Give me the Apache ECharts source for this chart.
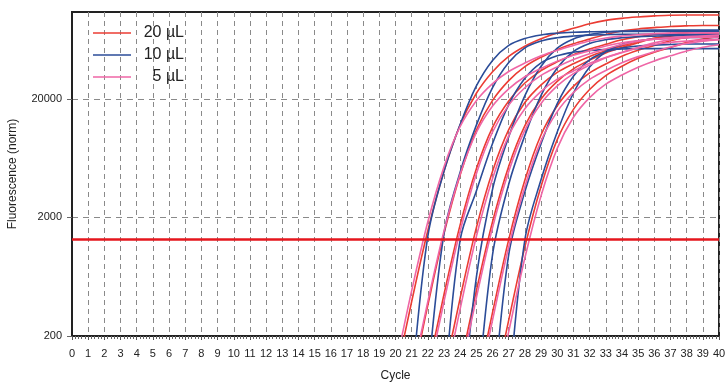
<!DOCTYPE html>
<html>
<head>
<meta charset="utf-8">
<script src="https://cdn.jsdelivr.net/npm/echarts@6/dist/echarts.min.js"></script>
<style>
  html, body { margin: 0; padding: 0; background: #ffffff; }
  #chart { width: 726px; height: 383px; }
</style>
</head>
<body>
<div id="chart"></div>
<script>
// cycles 19..40, one value per cycle for each well (null = below the plot)
const cycles = [19, 20, 21, 22, 23, 24, 25, 26, 27, 28, 29, 30, 31, 32, 33, 34, 35, 36, 37, 38, 39, 40];
const yTicks = [200, 2000, 20000];
const threshold = 1300;

// 20 µL wells
const vol20 = [
  [22, 89, 391, 1550, 4920, 12100, 22300, 33900, 45600, 55600, 64200, 71800, 78700, 86000, 91800, 95500, 98100, 100200, 101300, 101900, 102000, 102000],
  [null, 21, 82, 364, 1460, 4570, 10900, 19400, 28500, 37400, 44900, 52000, 58200, 63800, 69800, 74600, 77700, 79800, 81600, 82500, 83000, 83000],
  [null, null, 25, 103, 450, 1740, 5150, 11500, 19200, 27200, 34600, 41000, 47200, 52600, 57700, 62900, 66900, 69500, 71400, 72800, 73600, 74000],
  [null, null, null, 24, 96, 420, 1640, 4910, 11000, 18600, 26200, 33400, 39500, 45600, 50900, 55800, 61000, 64900, 67500, 69300, 70800, 71600],
  [null, null, null, null, 27, 111, 483, 1840, 5410, 11900, 19950, 28100, 35800, 42400, 48800, 54300, 59600, 64900, 68900, 71600, 73500, 74900],
  [null, null, null, null, null, 18, 71, 316, 1300, 4130, 9960, 17500, 25500, 33100, 39400, 45800, 51400, 56400, 61800, 66200, 69000, 71000],
  [null, null, null, null, null, null, 16, 62, 272, 1130, 3670, 9060, 16300, 24000, 31400, 37700, 43900, 49400, 54300, 59600, 64000, 66900]
];

// 10 µL wells
const vol10 = [
  [null, 4.6, 82, 1390, 4890, 12200, 25700, 42200, 56500, 64600, 69200, 71500, 72800, 73500, 74000, 74000, 74000, 74000, 74000, 74000, 74000, 74000],
  [null, null, 5.3, 95, 1470, 4840, 12000, 24900, 40600, 53800, 61400, 65500, 67700, 68900, 69500, 70000, 70000, 70000, 70000, 70000, 70000, 70000],
  [null, null, null, 4, 71, 1300, 3340, 8390, 17900, 29800, 40200, 46100, 49400, 51200, 52100, 52600, 53000, 53000, 53000, 53000, 53000, 53000],
  [null, null, null, null, 1.9, 34, 628, 3460, 9570, 21300, 37700, 53500, 64000, 69800, 72800, 74500, 75300, 75900, 76000, 76000, 76000, 76000],
  [null, null, null, null, null, 3, 53, 972, 3810, 9840, 21400, 36400, 50100, 58500, 63100, 65500, 66800, 67500, 68000, 68000, 68000, 68000],
  [null, null, null, null, null, null, 3, 53, 972, 3300, 8380, 18200, 31000, 42700, 49800, 53700, 55800, 56900, 57500, 58000, 58000, 58000],
  [null, null, null, null, null, null, null, 4, 71, 1300, 4170, 10500, 22400, 37200, 50100, 57500, 61700, 63800, 65000, 65600, 66000, 66000]
];

// 5 µL wells
const vol5 = [
  [27, 111, 483, 1840, 5360, 11700, 19300, 26900, 34000, 40100, 46100, 51400, 56400, 61400, 65200, 67700, 69500, 70900, 71600, 71900, 72000, 72000],
  [null, 22, 89, 391, 1540, 4650, 10400, 17400, 24300, 30700, 36100, 41600, 46600, 51000, 55800, 59500, 61900, 63600, 65000, 65700, 66100, 66100],
  [null, null, 22, 89, 391, 1540, 4670, 10500, 17700, 24800, 31500, 37200, 42900, 48000, 52600, 57500, 61300, 63800, 65500, 66900, 67700, 68100],
  [null, null, null, 19, 76, 340, 1380, 4250, 9790, 16500, 23100, 29300, 34400, 39900, 44700, 49000, 53600, 57400, 59800, 61400, 62800, 63500],
  [null, null, null, null, 24, 96, 420, 1640, 4890, 10900, 18300, 25700, 32600, 38500, 44400, 49500, 54300, 59300, 63200, 65700, 67500, 68900],
  [null, null, null, null, null, 16, 62, 272, 1130, 3640, 8840, 15600, 22600, 29200, 34700, 40300, 45400, 49900, 54700, 58700, 61400, 63200],
  [null, null, null, null, null, null, 13, 50, 218, 913, 3050, 7650, 14000, 20500, 26600, 31800, 37000, 41800, 46100, 50600, 54500, 57200]
];

const groups = [
  { name: "20 µL", color: "#eb3c33", rows: vol20 },
  { name: "10 µL", color: "#2b4c98", rows: vol10 },
  { name: "5 µL", color: "#ef66a6", rows: vol5 }
];

const FONT = "'Liberation Sans', Arial, sans-serif";
const INK = "#222222";

function toPoints(row) {
  const pts = [];
  row.forEach((v, i) => {
    if (v !== null) {
      pts.push([cycles[i], v]);
    }
  });
  return pts;
}

const series = [];
groups.forEach((g) => {
  g.rows.forEach((row) => {
    series.push({
      name: g.name,
      type: "line",
      data: toPoints(row),
      smooth: 0.35,
      symbol: "none",
      clip: true,
      color: g.color,
      lineStyle: { width: 1.6, color: g.color },
      emphasis: { disabled: true }
    });
  });
});

// threshold line
series.push({
  name: "threshold",
  type: "line",
  data: [],
  markLine: {
    silent: true,
    symbol: "none",
    label: { show: false },
    lineStyle: { color: "#e5161d", width: 2.5, type: "solid" },
    data: [{ yAxis: threshold }]
  }
});

const chart = echarts.init(document.getElementById("chart"), null, { renderer: "canvas" });

chart.setOption({
  backgroundColor: "#ffffff",
  animation: false,
  grid: {
    left: 72,
    right: 7,
    top: 12,
    bottom: 47,
    outerBoundsMode: "none",
    containLabel: false,
    show: true,
    borderColor: INK,
    borderWidth: 2
  },
  legend: {
    data: groups.map((g) => ({ name: g.name, icon: "rect" })),
    orient: "vertical",
    left: 88,
    top: 20,
    itemWidth: 38,
    itemHeight: 1.6,
    itemGap: 6,
    formatter: "{r|{name}}",
    textStyle: {
      rich: {
        r: { width: 48, height: 18, align: "right", fontSize: 16, fontFamily: FONT, color: INK }
      }
    }
  },
  xAxis: {
    type: "value",
    min: 0,
    max: 40,
    interval: 1,
    name: "Cycle",
    nameLocation: "middle",
    nameGap: 34,
    nameTextStyle: { fontFamily: FONT, fontSize: 12, color: INK },
    axisLine: { show: true, onZero: false, lineStyle: { color: INK, width: 2 } },
    axisTick: { show: true, length: 4, lineStyle: { color: "#555" } },
    minorTick: { show: true, splitNumber: 5, length: 3, lineStyle: { color: "#666" } },
    axisLabel: { fontFamily: FONT, fontSize: 11, color: INK, margin: 12 },
    splitLine: { show: true, lineStyle: { color: "#8a8a8a", width: 1, type: [5, 4] } }
  },
  yAxis: {
    type: "log",
    logBase: 10,
    min: 200,
    max: 108000,
    name: "Fluorescence (norm)",
    nameLocation: "middle",
    nameGap: 53,
    nameTextStyle: { fontFamily: FONT, fontSize: 12, color: INK },
    axisLine: { show: true, lineStyle: { color: INK, width: 2 } },
    axisTick: { show: true, length: 5, customValues: yTicks, lineStyle: { color: "#666" } },
    axisLabel: {
      fontFamily: FONT,
      fontSize: 11,
      color: INK,
      margin: 10,
      customValues: yTicks,
      formatter: (v) => String(v)
    },
    splitLine: { show: true, lineStyle: { color: "#8a8a8a", width: 1, type: [6, 5] } },
    minorTick: { show: false },
    minorSplitLine: { show: false }
  },
  series: series
});
</script>
</body>
</html>
